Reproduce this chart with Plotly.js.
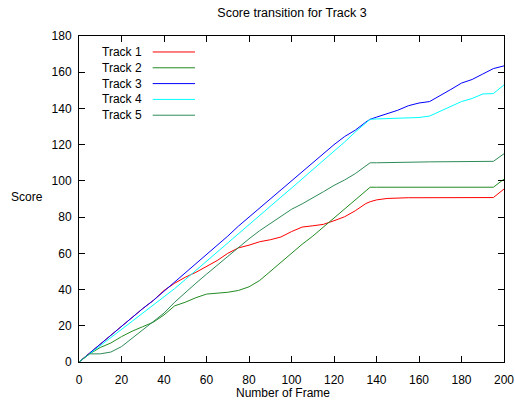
<!DOCTYPE html>
<html>
<head>
<meta charset="utf-8">
<script src="https://cdn.plot.ly/plotly-3.0.1.min.js"></script>
<style>html,body{margin:0;padding:0;background:#fff;}#chart{width:515px;height:403px;}</style>
</head>
<body>
<div id="chart"></div>
<script>
// Frame numbers (x) shared by all series
const frames = [0,5,10,15,20,25,30,35,40,45,50,55,60,65,70,75,80,85,90,95,100,105,110,115,120,125,130,135,137,140,145,150,155,160,165,170,175,180,185,190,195,200];

const track1 = [0,5,10,14.5,19.5,24.5,29.5,34,39.5,43.5,46.8,49.5,52.6,56,60,63,64.5,66.4,67.5,69,72,74.5,75.2,76,78,80.2,83.5,87.5,88.5,89.5,90.3,90.7,90.7,90.7,90.7,90.8,90.8,90.8,90.8,90.8,90.8,95.5];
const track2 = [0,4.5,8,10.5,14,17,19.5,22,26,31,33,35.5,37.5,37.8,38.5,39.5,41.5,45,50,55,60.5,65,69.5,74.5,79,84,89,94,96.5,96.5,96.5,96.5,96.5,96.5,96.5,96.5,96.5,96.5,96.5,96.5,96.5,101];
const track3 = [0,5,10,14.5,19.5,24.5,29.5,34,39,44.5,49.5,54.5,59.5,64.5,69.5,75,80,85,90,95,100.5,105.5,110.5,115.5,120,124.5,128,132.5,134,135.2,137,139,141.5,143,143.8,147,150.5,154,156,159,162,163.5];
const track4 = [0,4.5,9,13.5,17.5,22,26.5,31,35.5,40.5,45.5,50.5,55.5,60.5,65.5,70.5,76,81,86,91,96,101,106,111,116.5,121.5,127,132,134,134.2,134.3,134.5,134.7,135,135.8,138.5,141.4,143.8,145.5,148,148.2,153];
const track5 = [0,4.5,4.5,5.5,8.5,13,17.7,22.5,27,33,38.5,43.5,48.5,53.5,58.5,63,68,72.5,76.6,80.5,84.3,87.3,90.5,94,97.5,100.5,104,108,110,110,110,110.2,110.3,110.4,110.5,110.5,110.6,110.6,110.7,110.7,110.8,115];

const seriesNames = ["Track 1","Track 2","Track 3","Track 4","Track 5"];
const seriesValues = [track1, track2, track3, track4, track5];
const seriesColors = ["#ff0000","#228b22","#0000ff","#00ffff","#2e8b57"];

const chartTitle = "Score transition for Track 3";
const xTitle = "Number of Frame";
const yTitle = "Score";

const FONT = "Liberation Sans, Arial, Helvetica, sans-serif";
const FS = 12;

const traces = seriesNames.map((n, i) => ({
  type: "scatter", mode: "lines", name: n,
  x: frames, y: seriesValues[i],
  line: {color: seriesColors[i], width: 1},
  showlegend: false, hoverinfo: "skip"
}));

// custom gnuplot-style legend (text then line sample)
const legTop = 0.951, legStep = 0.0485;
const annotations = [];
const shapes = [];
seriesNames.forEach((n, i) => {
  const yy = legTop - i * legStep;
  annotations.push({xref: "paper", yref: "paper", x: 0.152, y: yy, text: n, showarrow: false,
    xanchor: "right", yanchor: "middle", font: {family: FONT, size: FS, color: "#000"}});
  shapes.push({type: "line", xref: "paper", yref: "paper", x0: 0.1734, x1: 0.273, y0: yy, y1: yy,
    line: {color: seriesColors[i], width: 1}});
});
annotations.push({xref: "paper", yref: "paper", x: -0.1224, y: 0.506, text: yTitle, showarrow: false,
  xanchor: "center", yanchor: "middle", font: {family: FONT, size: FS, color: "#000"}});
annotations.push({xref: "paper", yref: "paper", x: 0.48, y: -0.095, text: xTitle, showarrow: false,
  xanchor: "center", yanchor: "middle", font: {family: FONT, size: FS, color: "#000"}});

const axisCommon = {
  showgrid: false, zeroline: false, showline: true, mirror: "ticks",
  linecolor: "#000", linewidth: 1, ticks: "inside", ticklen: 6, tickwidth: 1, tickcolor: "#000",
  tickfont: {family: FONT, size: FS, color: "#000"}, dtick: 20, tick0: 0
};

const layout = {
  width: 515, height: 403,
  margin: {l: 79, r: 11, t: 36, b: 41, pad: 0},
  paper_bgcolor: "#fff", plot_bgcolor: "#fff",
  font: {family: FONT, size: FS, color: "#000"},
  title: {text: chartTitle, x: 0.567, xanchor: "center", xref: "container", y: 0.968, yanchor: "middle", yref: "container",
    font: {family: FONT, size: 12.5, color: "#000"}},
  xaxis: Object.assign({}, axisCommon, {range: [0, 200], ticklabelstandoff: 7}),
  yaxis: Object.assign({}, axisCommon, {range: [0, 180], ticklabelstandoff: 4}),
  annotations: annotations, shapes: shapes, showlegend: false
};

Plotly.newPlot("chart", traces, layout, {displayModeBar: false, staticPlot: true});
</script>
</body>
</html>
